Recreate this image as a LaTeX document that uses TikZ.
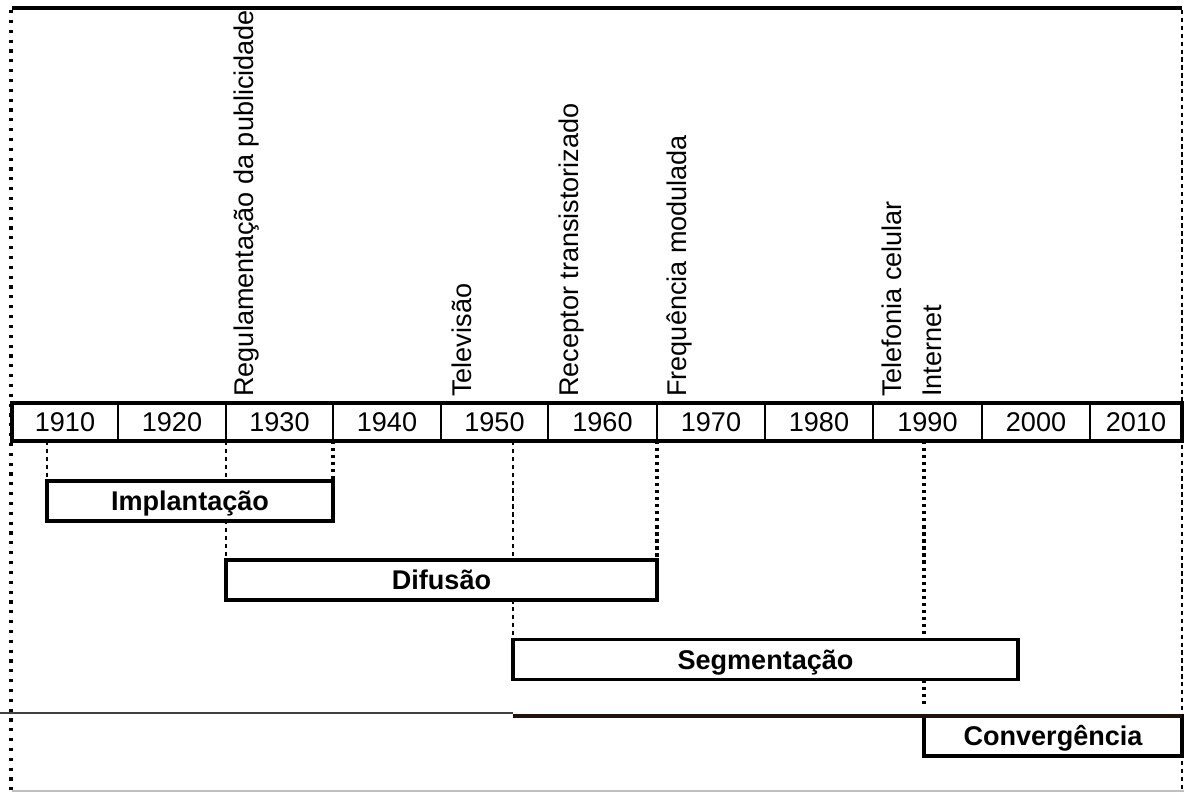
\documentclass[tikz,border=0pt]{standalone}
\usepackage{fontspec}
\setmainfont{Liberation Sans}
\usetikzlibrary{backgrounds}

\begin{document}
\begin{tikzpicture}[x=0.02cm, y=-0.02cm,
  every node/.style={font=\fontsize{15.4}{18}\selectfont},
  yearcell/.style={draw, line width=1.2pt, inner sep=0pt, outer sep=0pt, minimum height=0.76cm},
  phase/.style={draw, fill=white, line width=2pt, inner sep=0pt, outer sep=0pt, minimum height=0.8cm,
    font=\fontsize{15.4}{18}\selectfont\bfseries, text height=11pt, text depth=0pt},
  event/.style={rotate=90, anchor=base west, inner sep=0pt},
  thinmark/.style={line width=0.9pt, dash pattern=on 2.5pt off 2pt},
  thickmark/.style={line width=2pt, dash pattern=on 1.8pt off 2.2pt},
  framemark/.style={line width=2pt, dash pattern=on 1.8pt off 3.8pt}]
\useasboundingbox (0,0) rectangle (1184,792);

% frame
\draw[line width=2.2pt] (12,8) -- (1182,8);
\draw[framemark] (11,10) -- (11,792);
\draw[thinmark, line width=1.1pt] (1182,10) -- (1182,792);
\draw[black!25, line width=0.6pt] (12,791) -- (1184,791);

% time axis
\foreach \l/\r/\yr in {12/118/1910, 118/226/1920, 226/333/1930, 333/441/1940, 441/548/1950,
    548/657/1960, 657/765/1970, 765/873/1980, 873/982/1990, 982/1090/2000, 1090/1182/2010}{
  \pgfmathsetmacro\w{(\r-\l)*0.02}
  \node[yearcell, minimum width=\w cm] (y\yr) at ({(\l+\r)/2},422) {\yr};
}
\draw[line width=2.2pt] (y1910.north west) rectangle (y2010.south east);

% events
\node[event] (regul) at (253,397) {Regulamentação da publicidade};
\node[event] (tv) at (471,397) {Televisão};
\node[event] (recep) at (578,397) {Receptor transistorizado};
\node[event] (fm) at (686,397) {Frequência modulada};
\node[event] (cel) at (901,397) {Telefonia celular};
\node[event] (net) at (941,397) {Internet};

% phases
\node[phase, minimum width=5.72cm] (impl) at (190,501) {Implantação};
\node[phase, minimum width=8.62cm] (dif) at (441.5,580) {Difusão};
\node[phase, minimum width=10.1cm] (seg) at (765.5,659.5) {Segmentação};
\node[phase, minimum width=5.16cm] (conv) at (1053,736) {Convergência};

\begin{scope}[on background layer]
\draw[thinmark] (impl.north west |- y1910.south) -- (impl.north west);
\draw[thinmark] (dif.north west |- y1930.south) -- (dif.north west);
\draw[thickmark] (impl.north east |- y1930.south) -- (impl.north east);
\draw[thinmark] (seg.north west |- y1950.south) -- (seg.north west);
\draw[thickmark] (dif.north east |- y1960.south) -- (dif.north east);
\draw[thickmark] (conv.north west |- y1990.south) -- ([yshift=0.16cm]conv.north west);
\end{scope}

% divider
\coordinate (edge) at (0,713);
\draw[line width=0.9pt, black!75] (edge) -- (edge -| seg.west);
\draw[line width=2pt, black!85!brown] (seg.west |- conv.north) -- (conv.north east);
\end{tikzpicture}
\end{document}
